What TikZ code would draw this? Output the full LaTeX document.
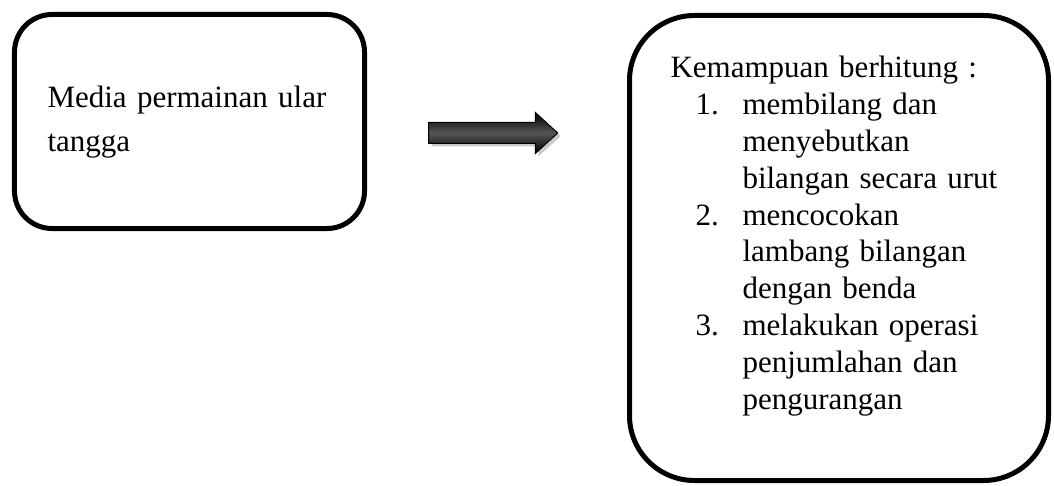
\documentclass[tikz,border=0pt]{standalone}
\usepackage{fontspec}
\setmainfont{Liberation Serif}
\usepackage{tikz}
\usetikzlibrary{shapes.arrows, shadows, positioning, calc}
\definecolor{TintaNegra}{RGB}{0, 0, 0}
\definecolor{GrisSombra}{RGB}{150, 150, 150}
\definecolor{GrisBrillo}{RGB}{85, 85, 85}

\tikzset{
    caja/.style={draw=TintaNegra, line width=2pt, fill=white, inner sep=0pt},
    texto/.style={anchor=base west, inner sep=0pt, align=left},
    panah/.style={single arrow, draw=TintaNegra, line width=0.4pt,
        single arrow head extend=4pt, single arrow tip angle=85,
        inner xsep=0pt, inner ysep=4pt, minimum height=51.6pt,
        top color=TintaNegra, bottom color=TintaNegra, middle color=GrisBrillo,
        drop shadow={shadow xshift=1.2pt, shadow yshift=-1.2pt, fill=GrisSombra}}
}

\begin{document}
\begin{tikzpicture}[x=0.4pt, y=-0.4pt]  % unidades en pixeles de la imagen
    % Marco de la imagen
    \useasboundingbox (0,0) rectangle (1054,486);

    % Caja izquierda: media
    \node[caja, minimum width=140pt, minimum height=85.6pt, rounded corners=15pt]
        (media) at (189.5,121.5) {};
    \node[texto, text width=125pt, font=\fontsize{12.4pt}{17.6pt}\selectfont]
        (mediatxt) at (47,108) {Media permainan ular\\tangga};

    % Flecha gruesa con sombra
    \node[panah] (flecha) at (487.5,133) {};

    % Caja derecha: kemampuan berhitung
    \node[caja, minimum width=167.6pt, minimum height=186pt, rounded corners=26pt]
        (hasil) at (839,248) {};
    \node[texto, text width=160pt, font=\fontsize{12.4pt}{14.72pt}\selectfont]
        (hasiltxt) at (670,78) {Kemampuan berhitung :\\
        \hspace*{10pt}\makebox[18.8pt][l]{1.}membilang dan\\
        \hspace*{28.8pt}menyebutkan\\
        \hspace*{28.8pt}bilangan secara urut\\
        \hspace*{10pt}\makebox[18.8pt][l]{2.}mencocokan\\
        \hspace*{28.8pt}lambang bilangan\\
        \hspace*{28.8pt}dengan benda\\
        \hspace*{10pt}\makebox[18.8pt][l]{3.}melakukan operasi\\
        \hspace*{28.8pt}penjumlahan dan\\
        \hspace*{28.8pt}pengurangan};
\end{tikzpicture}
\end{document}
